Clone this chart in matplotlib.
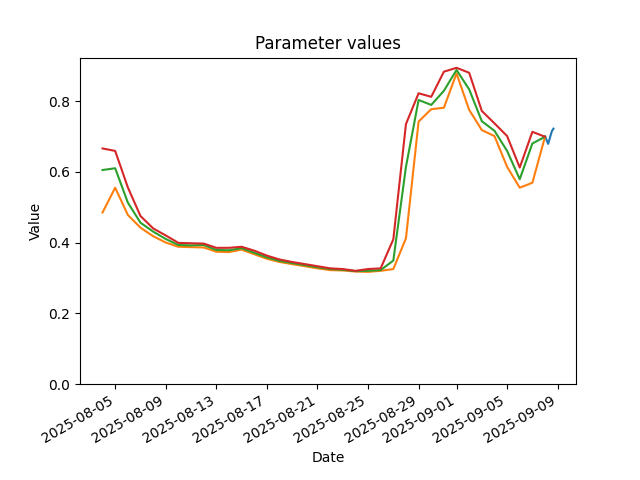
import matplotlib
matplotlib.use("Agg")
import matplotlib.pyplot as plt
import pandas as pd

# daily series, 2025-08-04 .. 2025-09-08
dates = pd.date_range("2025-08-04", "2025-09-08", freq="D")

low = [0.485, 0.555, 0.478, 0.442, 0.418, 0.400, 0.388, 0.387, 0.386, 0.374,
       0.373, 0.380, 0.367, 0.354, 0.345, 0.339, 0.333, 0.327, 0.322, 0.321,
       0.318, 0.317, 0.320, 0.325, 0.412, 0.742, 0.777, 0.781, 0.878, 0.775,
       0.718, 0.701, 0.614, 0.555, 0.569, 0.699]
mid = [0.605, 0.610, 0.513, 0.456, 0.431, 0.410, 0.393, 0.392, 0.393, 0.379,
       0.378, 0.384, 0.371, 0.358, 0.348, 0.342, 0.336, 0.330, 0.325, 0.323,
       0.319, 0.320, 0.322, 0.349, 0.614, 0.803, 0.789, 0.829, 0.888, 0.833,
       0.743, 0.716, 0.659, 0.579, 0.680, 0.699]
high = [0.666, 0.659, 0.556, 0.475, 0.440, 0.420, 0.399, 0.398, 0.397, 0.385,
        0.385, 0.388, 0.377, 0.363, 0.352, 0.345, 0.339, 0.333, 0.327, 0.325,
        0.320, 0.325, 0.327, 0.409, 0.735, 0.822, 0.812, 0.883, 0.894, 0.880,
        0.772, 0.737, 0.701, 0.612, 0.713, 0.699]

# intraday values on the last day
recent_times = pd.to_datetime(["2025-09-08 00:00", "2025-09-08 06:00",
                               "2025-09-08 10:00", "2025-09-08 13:00",
                               "2025-09-08 16:00"])
recent = [0.700, 0.679, 0.700, 0.715, 0.722]

fig, ax = plt.subplots(figsize=(6.4, 4.8), dpi=100)
ax.plot(recent_times, recent, color="C0")
ax.plot(dates, low, color="C1")
ax.plot(dates, mid, color="C2")
ax.plot(dates, high, color="C3")
ax.set_ylim(bottom=0)
ax.set_title("Parameter values")
ax.set_xlabel("Date")
ax.set_ylabel("Value")
fig.autofmt_xdate()
fig.savefig("out.png")
